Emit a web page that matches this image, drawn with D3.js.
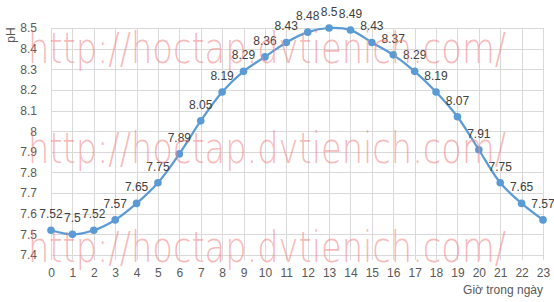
<!DOCTYPE html>
<html>
<head>
<meta charset="utf-8">
<script src="https://cdn.jsdelivr.net/npm/d3@7"></script>
<style>
  body { margin: 0; background: #fff; }
  svg { display: block; font-family: "Liberation Sans", Arial, sans-serif; }
</style>
</head>
<body>
<div id="chart"></div>
<script>
// pH theo giờ trong ngày
var hours = d3.range(0, 24)
var phValues = [7.52, 7.5, 7.52, 7.57, 7.65, 7.75, 7.89, 8.05, 8.19, 8.29, 8.36, 8.43,
                8.48, 8.5, 8.49, 8.43, 8.37, 8.29, 8.19, 8.07, 7.91, 7.75, 7.65, 7.57]
var yTicks = [7.4, 7.5, 7.6, 7.7, 7.8, 7.9, 8, 8.1, 8.2, 8.3, 8.4, 8.5]
var xTitle = "Giờ trong ngày"
var yTitle = "pH"
var watermark = "http://hoctap.dvtienich.com/"

var width = 554, height = 302
var margin = {top: 28, right: 11, bottom: 47, left: 51}

var x = d3.scaleLinear()
    .domain([0, 23])
    .range([margin.left, width - margin.right])

var y = d3.scaleLinear()
    .domain([7.4, 8.5])
    .range([height - margin.bottom, margin.top])

var svg = d3.select('#chart')
  .append('svg')
    .attr('width', width)
    .attr('height', height)

// grid
svg.append('g')
  .selectAll('line')
  .data(yTicks)
  .join('line')
    .attr('x1', x(0))
    .attr('x2', x(23))
    .attr('y1', d => Math.round(y(d)) + 0.5)
    .attr('y2', d => Math.round(y(d)) + 0.5)
    .attr('stroke', '#d9d9d9')

svg.append('g')
  .selectAll('line')
  .data(hours)
  .join('line')
    .attr('x1', d => Math.round(x(d)) + 0.5)
    .attr('x2', d => Math.round(x(d)) + 0.5)
    .attr('y1', y(8.5))
    .attr('y2', y(7.4) + 5)
    .attr('stroke', '#d9d9d9')

// axes
var xAxis = g => g
  .attr('transform', 'translate(0,' + (y(7.4) + 5) + ')')
  .call(d3.axisBottom(x).tickValues(hours).tickSize(0).tickPadding(8))
  .call(g => g.select('.domain').remove())

var yAxis = g => g
  .attr('transform', 'translate(' + (margin.left - 11) + ',0)')
  .call(d3.axisLeft(y).tickValues(yTicks).tickSize(0).tickFormat(d3.format('')))
  .call(g => g.select('.domain').remove())

svg.append('g').call(xAxis)
svg.append('g').call(yAxis)

svg.selectAll('.tick text')
    .attr('fill', '#595959')
    .style('font-size', '12px')
    .style('font-family', '"Liberation Sans", Arial, sans-serif')

svg.append('text')
    .attr('x', x(23))
    .attr('y', 294)
    .attr('text-anchor', 'end')
    .attr('fill', '#595959')
    .style('font-size', '12px')
    .text(xTitle)

svg.append('text')
    .attr('transform', 'translate(15,35) rotate(-90)')
    .attr('text-anchor', 'middle')
    .attr('fill', '#595959')
    .style('font-size', '12px')
    .text(yTitle)

// line
var line = d3.line()
    .x((d, i) => x(hours[i]))
    .y(d => y(d))
    .curve(d3.curveCatmullRom.alpha(0.5))

svg.append('path')
    .datum(phValues)
    .attr('fill', 'none')
    .attr('stroke', '#5b9bd5')
    .attr('stroke-width', 2.25)
    .attr('stroke-linejoin', 'round')
    .attr('d', line)

svg.append('g')
  .selectAll('circle')
  .data(phValues)
  .join('circle')
    .attr('cx', (d, i) => x(hours[i]))
    .attr('cy', d => y(d))
    .attr('r', 3.8)
    .attr('fill', '#5b9bd5')

svg.append('g')
  .selectAll('text')
  .data(phValues)
  .join('text')
    .attr('x', (d, i) => x(hours[i]))
    .attr('y', d => y(d) - 12)
    .attr('text-anchor', 'middle')
    .attr('fill', '#404040')
    .style('font-size', '12px')
    .text(d => d)

// watermark
svg.append('g')
  .selectAll('text')
  .data([63, 163, 262])
  .join('text')
    .attr('x', 28)
    .attr('y', d => d)
    .attr('textLength', 478)
    .attr('lengthAdjust', 'spacingAndGlyphs')
    .attr('fill', '#f08080')
    .attr('fill-opacity', 0.55)
    .style('font-family', '"DejaVu Sans", sans-serif')
    .style('font-size', '42px')
    .style('font-weight', 200)
    .text(watermark)
</script>
</body>
</html>
